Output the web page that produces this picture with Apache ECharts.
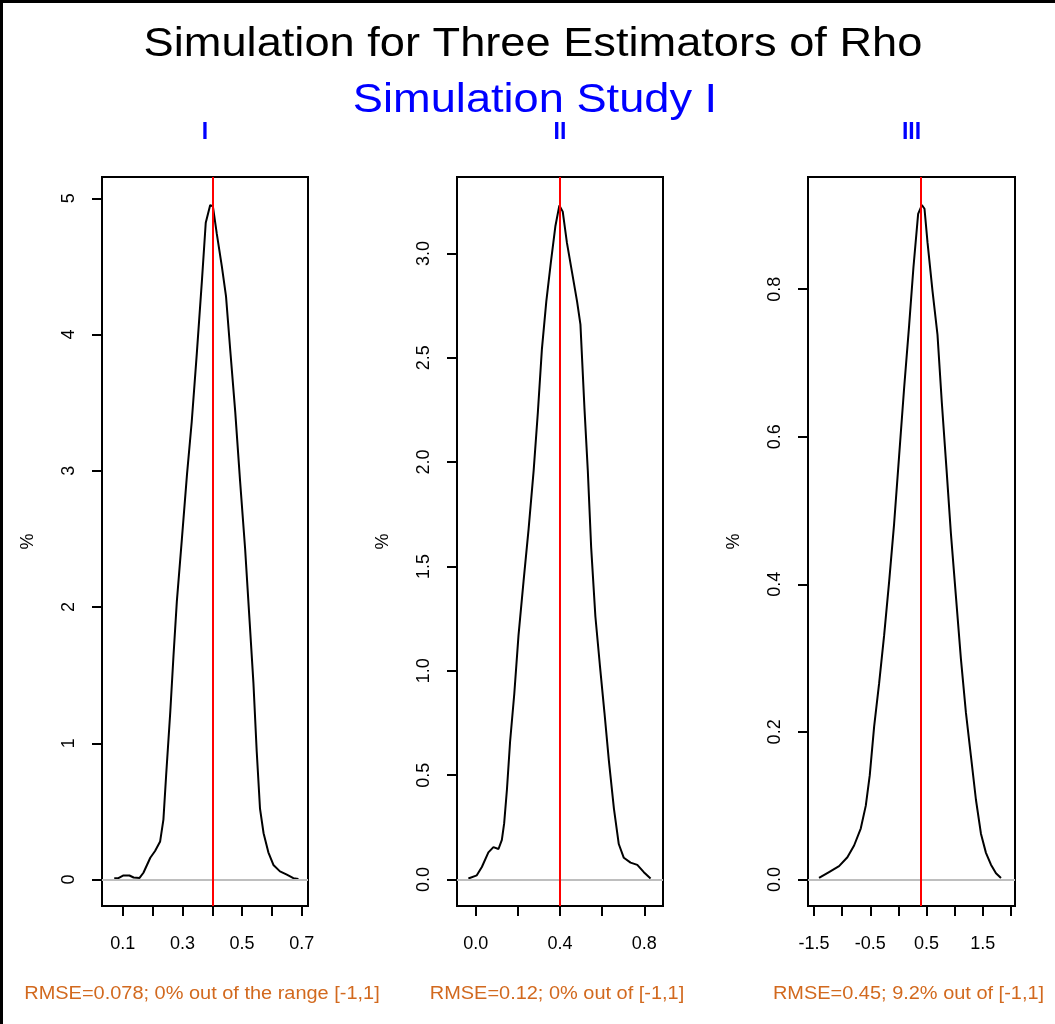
<!DOCTYPE html>
<html>
<head>
<meta charset="utf-8">
<title>Simulation for Three Estimators of Rho</title>
<script src="https://cdn.jsdelivr.net/npm/echarts@6/dist/echarts.min.js"></script>
<style>
  html, body { margin: 0; padding: 0; background: #fff; }
  #chart { width: 1055px; height: 1024px; }
</style>
</head>
<body>
<div id="chart"></div>
<script>
// density of estimator I (x = estimate of rho, y = %)
var rhoI = [0.071, 0.085, 0.102, 0.122, 0.136, 0.156, 0.169, 0.192, 0.208, 0.225, 0.236, 0.245, 0.259, 0.270,
  0.281, 0.298, 0.315, 0.331, 0.348, 0.365, 0.378, 0.393, 0.402, 0.415, 0.432, 0.446, 0.460, 0.477,
  0.493, 0.510, 0.525, 0.538, 0.549, 0.560, 0.572, 0.588, 0.605, 0.627, 0.650, 0.672, 0.689]
var densI = [0.01, 0.01, 0.03, 0.03, 0.015, 0.012, 0.05, 0.16, 0.21, 0.28, 0.44, 0.76, 1.23, 1.65,
  2.04, 2.50, 2.97, 3.36, 3.86, 4.39, 4.82, 4.95, 4.94, 4.74, 4.50, 4.28, 3.89, 3.43,
  2.93, 2.43, 1.90, 1.44, 0.94, 0.52, 0.34, 0.20, 0.107, 0.06, 0.036, 0.01, 0.004]

// density of estimator II
var rhoII = [-0.035, 0.005, 0.029, 0.060, 0.084, 0.108, 0.124, 0.135, 0.148, 0.163, 0.183, 0.203, 0.227,
  0.251, 0.275, 0.295, 0.314, 0.335, 0.357, 0.378, 0.397, 0.413, 0.433, 0.457, 0.481, 0.497, 0.516,
  0.532, 0.548, 0.568, 0.589, 0.611, 0.632, 0.656, 0.679, 0.703, 0.735, 0.767, 0.798, 0.830]
var densII = [0.005, 0.02, 0.06, 0.13, 0.155, 0.146, 0.19, 0.27, 0.43, 0.66, 0.89, 1.17, 1.43,
  1.68, 1.96, 2.24, 2.54, 2.77, 2.96, 3.13, 3.23, 3.20, 3.05, 2.91, 2.77, 2.66, 2.26,
  1.96, 1.59, 1.26, 1.03, 0.80, 0.57, 0.34, 0.17, 0.104, 0.081, 0.07, 0.035, 0.005]

// density of estimator III
var rhoIII = [-1.411, -1.233, -1.055, -0.907, -0.788, -0.670, -0.580, -0.510, -0.432, -0.343, -0.254,
  -0.165, -0.077, 0.012, 0.101, 0.190, 0.267, 0.350, 0.416, 0.463, 0.517, 0.606, 0.694, 0.771,
  0.855, 0.932, 1.021, 1.110, 1.199, 1.288, 1.377, 1.466, 1.555, 1.644, 1.733, 1.822]
var densIII = [0.002, 0.01, 0.018, 0.03, 0.046, 0.069, 0.10, 0.141, 0.207, 0.266, 0.331,
  0.404, 0.482, 0.574, 0.666, 0.751, 0.830, 0.902, 0.914, 0.909, 0.863, 0.797, 0.738, 0.646,
  0.555, 0.469, 0.384, 0.299, 0.226, 0.167, 0.108, 0.062, 0.036, 0.02, 0.0085, 0.002]

var trueRho = 0.4
var mainTitle = 'Simulation for Three Estimators of Rho'
var subTitle = 'Simulation Study I'
var panelNames = ['I', 'II', 'III']
var rmseNotes = ['RMSE=0.078; 0% out of the range [-1,1]', 'RMSE=0.12; 0% out of [-1,1]', 'RMSE=0.45; 9.2% out of [-1,1]']

// axis limits, ticks and labelled ticks for each panel
var xLimits = [[0.030, 0.721], [-0.089, 0.889], [-1.607, 2.071]]
var yLimits = [[-0.194, 5.156], [-0.127, 3.366], [-0.036, 0.952]]
var xTicks = [[0.1, 0.2, 0.3, 0.4, 0.5, 0.6, 0.7], [0.0, 0.2, 0.4, 0.6, 0.8], [-1.5, -1.0, -0.5, 0.0, 0.5, 1.0, 1.5, 2.0]]
var xTickLabels = [[0.1, 0.3, 0.5, 0.7], [0.0, 0.4, 0.8], [-1.5, -0.5, 0.5, 1.5]]
var yTicks = [[0, 1, 2, 3, 4, 5], [0.0, 0.5, 1.0, 1.5, 2.0, 2.5, 3.0], [0.0, 0.2, 0.4, 0.6, 0.8]]

var curves = [[rhoI, densI], [rhoII, densII], [rhoIII, densIII]]

var FONT = '"Liberation Sans", Arial, Helvetica, sans-serif'
var gridLeft = [102, 457, 808]
var gridWidth = [206, 206, 207]

var chart = echarts.init(document.getElementById('chart'))

var grids = [], xAxes = [], yAxes = [], series = [], graphics = []

// outer frame (top and left edge)
graphics.push({ type: 'line', shape: { x1: 0, y1: 1.5, x2: 1055, y2: 1.5 }, style: { stroke: '#000', lineWidth: 3 } })
graphics.push({ type: 'line', shape: { x1: 1.5, y1: 0, x2: 1.5, y2: 1024 }, style: { stroke: '#000', lineWidth: 3 } })

graphics.push({
  type: 'text', x: 533, y: 45, scaleX: 1.13,
  style: { text: mainTitle, fontSize: 40, fontFamily: FONT, fill: '#000', align: 'center', verticalAlign: 'middle' }
})
graphics.push({
  type: 'text', x: 535, y: 101, scaleX: 1.13,
  style: { text: subTitle, fontSize: 40, fontFamily: FONT, fill: '#0000ff', align: 'center', verticalAlign: 'middle' }
})

for (var i = 0; i < 3; i++) {
  var cx = gridLeft[i] + gridWidth[i] / 2
  grids.push({
    left: gridLeft[i], top: 177, width: gridWidth[i], height: 729,
    show: true, borderColor: '#000', borderWidth: 2, backgroundColor: 'transparent'
  })
  xAxes.push({
    type: 'value', gridIndex: i, min: xLimits[i][0], max: xLimits[i][1],
    axisLine: { show: false, onZero: false },
    splitLine: { show: false },
    axisTick: { show: true, length: 10, customValues: xTicks[i], lineStyle: { color: '#000', width: 2 } },
    axisLabel: {
      customValues: xTickLabels[i], margin: 29, color: '#000', fontSize: 18, fontFamily: FONT,
      formatter: function (v) { return v.toFixed(1) }
    }
  })
  yAxes.push({
    type: 'value', gridIndex: i, min: yLimits[i][0], max: yLimits[i][1],
    name: '%', nameLocation: 'middle', nameRotate: 90, nameGap: 65,
    nameTextStyle: { color: '#000', fontSize: 18, fontFamily: FONT },
    axisLine: { show: false, onZero: false },
    splitLine: { show: false },
    axisTick: { show: true, length: 10, customValues: yTicks[i], lineStyle: { color: '#000', width: 2 } },
    axisLabel: {
      customValues: yTicks[i], rotate: 90, margin: 24, color: '#000', fontSize: 18, fontFamily: FONT,
      formatter: i === 0 ? function (v) { return String(v) } : function (v) { return v.toFixed(1) }
    }
  })
  var pts = curves[i][0].map(function (x, k) { return [x, curves[i][1][k]] })
  series.push({
    type: 'line', xAxisIndex: i, yAxisIndex: i, data: pts,
    showSymbol: false, symbol: 'none', smooth: false,
    lineStyle: { color: '#000', width: 2 },
    markLine: {
      silent: true, symbol: 'none', animation: false, label: { show: false },
      data: [
        { yAxis: 0, lineStyle: { color: '#bebebe', width: 2, type: 'solid' } },
        { xAxis: trueRho, lineStyle: { color: '#ff0000', width: 2, type: 'solid' } }
      ]
    }
  })
  graphics.push({
    type: 'text', x: cx, y: 133,
    style: { text: panelNames[i], fontSize: 23, fontWeight: 'bold', fontFamily: FONT, fill: '#0000ff', align: 'center', verticalAlign: 'middle' }
  })
  graphics.push({
    type: 'text', x: cx - 3, y: 994, scaleX: 1.14,
    style: { text: rmseNotes[i], fontSize: 17.5, fontFamily: FONT, fill: '#d2691e', align: 'center', verticalAlign: 'middle' }
  })
}

chart.setOption({
  backgroundColor: '#fff',
  animation: false,
  grid: grids,
  xAxis: xAxes,
  yAxis: yAxes,
  series: series,
  graphic: graphics
})
</script>
</body>
</html>
